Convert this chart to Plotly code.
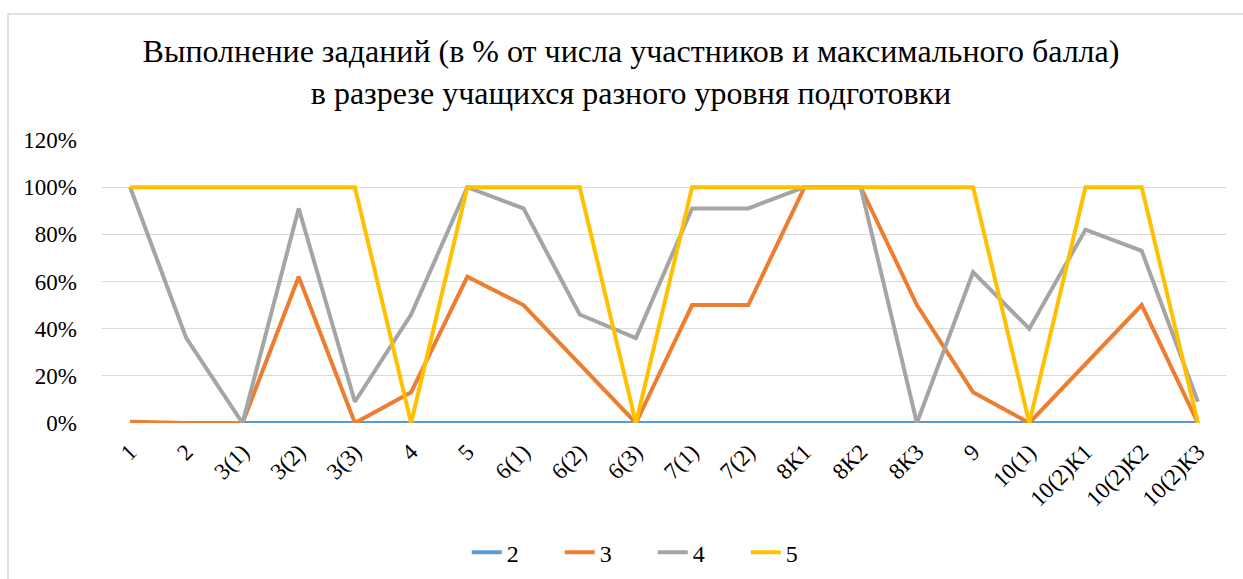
import plotly.graph_objects as go

categories = ["1", "2", "3(1)", "3(2)", "3(3)", "4", "5", "6(1)", "6(2)", "6(3)",
              "7(1)", "7(2)", "8К1", "8К2", "8К3", "9", "10(1)", "10(2)К1", "10(2)К2", "10(2)К3"]

s2 = [0] * 20
s3 = [0.005, 0, 0, 0.62, 0, 0.13, 0.62, 0.50, 0.25, 0, 0.50, 0.50, 1.0, 1.0, 0.50, 0.13, 0, 0.25, 0.50, 0]
s4 = [1.0, 0.36, 0, 0.91, 0.09, 0.46, 1.0, 0.91, 0.46, 0.36, 0.91, 0.91, 1.0, 1.0, 0, 0.64, 0.40, 0.82, 0.73, 0.09]
s5 = [1.0, 1.0, 1.0, 1.0, 1.0, 0, 1.0, 1.0, 1.0, 0, 1.0, 1.0, 1.0, 1.0, 1.0, 1.0, 0, 1.0, 1.0, 0]

series_names = ["2", "3", "4", "5"]
colors = ["#5B9BD5", "#ED7D31", "#A5A5A5", "#FFC000"]

font_family = "Times New Roman, Liberation Serif, DejaVu Serif, serif"

fig = go.Figure()
for name, vals, col in zip(series_names, [s2, s3, s4, s5], colors):
    fig.add_trace(go.Scatter(x=categories, y=vals, mode="lines", name=name,
                             line=dict(color=col, width=4)))

fig.update_layout(
    width=1243, height=579,
    margin=dict(l=102, r=17, t=140, b=156, autoexpand=False),
    paper_bgcolor="white", plot_bgcolor="white",
    font=dict(family=font_family, color="black"),
    title=dict(text="Выполнение заданий (в % от числа участников и максимального балла)<br>в разрезе учащихся разного уровня подготовки",
               xref="container", x=631 / 1243, xanchor="center",
               yref="container", y=(579 - 62) / 579, yanchor="middle",
               font=dict(size=32, family=font_family, color="black")),
    showlegend=True,
    legend=dict(orientation="h", x=0.490, xanchor="center", y=-0.458, yanchor="middle",
                font=dict(size=24, family=font_family), itemwidth=30,
                entrywidth=48, entrywidthmode="pixels"),
    xaxis=dict(type="category", range=[-0.5, 19.5], showgrid=False, showline=False,
               automargin=False, ticklabelstandoff=10,
               ticks="", tickangle=-45, tickfont=dict(size=23, family=font_family)),
    yaxis=dict(range=[0, 1.2], tickvals=[0, 0.2, 0.4, 0.6, 0.8, 1.0, 1.2],
               ticktext=["0%", "20%", "40%", "60%", "80%", "100%", "120%"],
               automargin=False,
               showgrid=True, gridcolor="#D9D9D9", gridwidth=1, zeroline=False,
               showline=False, ticks="", ticklabelstandoff=24,
               tickfont=dict(size=23, family=font_family)),
    shapes=[dict(type="rect", xref="paper", yref="paper",
                 x0=-0.0836, x1=1.03, y0=-0.7, y1=1.445,
                 line=dict(color="#D9D9D9", width=1.5), fillcolor="rgba(0,0,0,0)", layer="below")],
)

fig.write_html("out.html", config={"displayModeBar": False},
               post_script="document.body.style.margin='0';")
